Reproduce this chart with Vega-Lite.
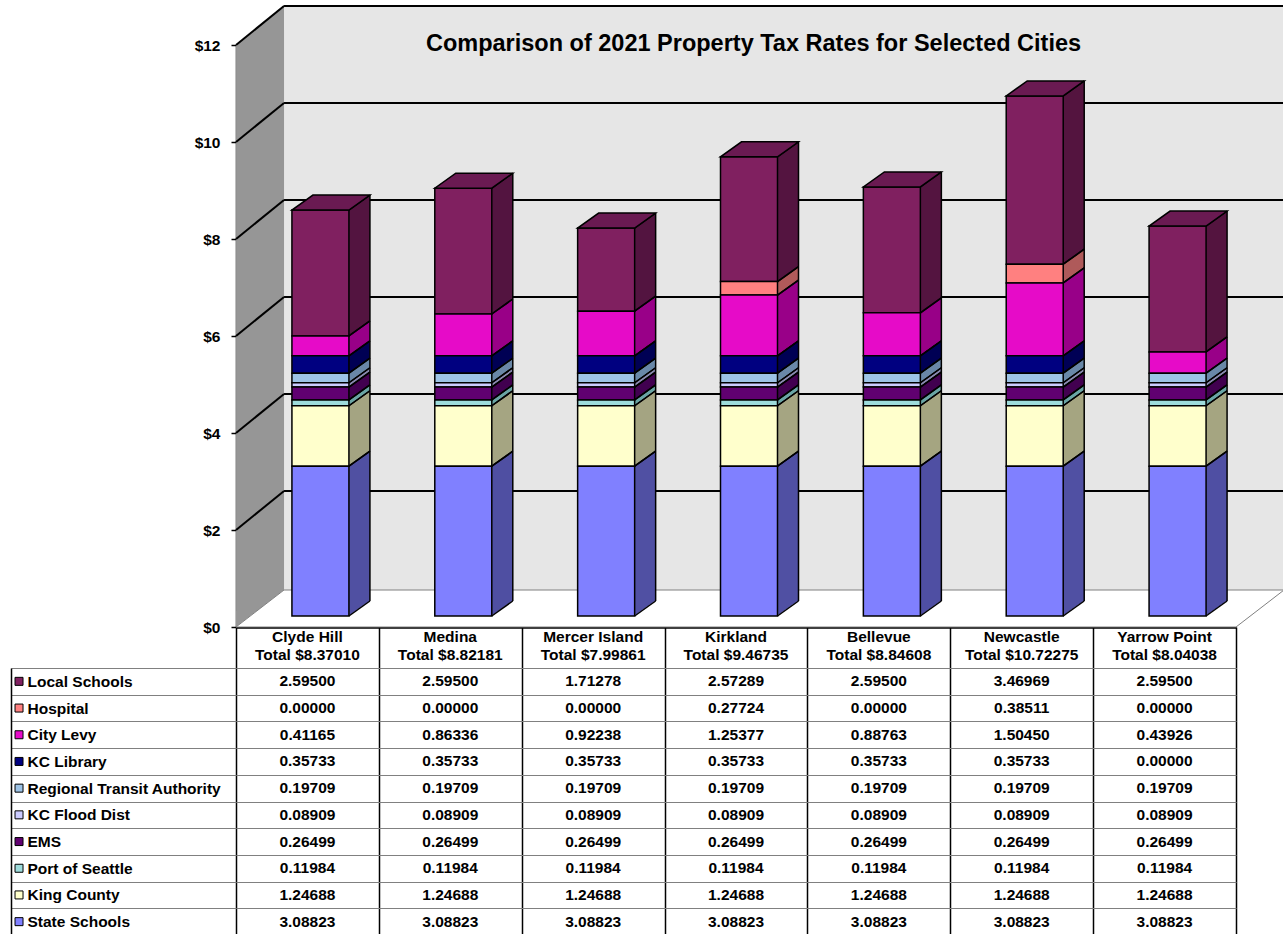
{
"$schema": "https://vega.github.io/schema/vega-lite/v6.json",
"padding": {"left": 10, "top": 5, "right": 0, "bottom": 0},
"background": "white",
"bounds": "flush",
"spacing": 41,
"config": {"view": {"stroke": null}, "font": "Liberation Sans"},
"datasets": {
"rates": [
{"city":"Clyde Hill","series":"Local Schools","value":2.595},
{"city":"Medina","series":"Local Schools","value":2.595},
{"city":"Mercer Island","series":"Local Schools","value":1.71278},
{"city":"Kirkland","series":"Local Schools","value":2.57289},
{"city":"Bellevue","series":"Local Schools","value":2.595},
{"city":"Newcastle","series":"Local Schools","value":3.46969},
{"city":"Yarrow Point","series":"Local Schools","value":2.595},
{"city":"Clyde Hill","series":"Hospital","value":0},
{"city":"Medina","series":"Hospital","value":0},
{"city":"Mercer Island","series":"Hospital","value":0},
{"city":"Kirkland","series":"Hospital","value":0.27724},
{"city":"Bellevue","series":"Hospital","value":0},
{"city":"Newcastle","series":"Hospital","value":0.38511},
{"city":"Yarrow Point","series":"Hospital","value":0},
{"city":"Clyde Hill","series":"City Levy","value":0.41165},
{"city":"Medina","series":"City Levy","value":0.86336},
{"city":"Mercer Island","series":"City Levy","value":0.92238},
{"city":"Kirkland","series":"City Levy","value":1.25377},
{"city":"Bellevue","series":"City Levy","value":0.88763},
{"city":"Newcastle","series":"City Levy","value":1.5045},
{"city":"Yarrow Point","series":"City Levy","value":0.43926},
{"city":"Clyde Hill","series":"KC Library","value":0.35733},
{"city":"Medina","series":"KC Library","value":0.35733},
{"city":"Mercer Island","series":"KC Library","value":0.35733},
{"city":"Kirkland","series":"KC Library","value":0.35733},
{"city":"Bellevue","series":"KC Library","value":0.35733},
{"city":"Newcastle","series":"KC Library","value":0.35733},
{"city":"Yarrow Point","series":"KC Library","value":0},
{"city":"Clyde Hill","series":"Regional Transit Authority","value":0.19709},
{"city":"Medina","series":"Regional Transit Authority","value":0.19709},
{"city":"Mercer Island","series":"Regional Transit Authority","value":0.19709},
{"city":"Kirkland","series":"Regional Transit Authority","value":0.19709},
{"city":"Bellevue","series":"Regional Transit Authority","value":0.19709},
{"city":"Newcastle","series":"Regional Transit Authority","value":0.19709},
{"city":"Yarrow Point","series":"Regional Transit Authority","value":0.19709},
{"city":"Clyde Hill","series":"KC Flood Dist","value":0.08909},
{"city":"Medina","series":"KC Flood Dist","value":0.08909},
{"city":"Mercer Island","series":"KC Flood Dist","value":0.08909},
{"city":"Kirkland","series":"KC Flood Dist","value":0.08909},
{"city":"Bellevue","series":"KC Flood Dist","value":0.08909},
{"city":"Newcastle","series":"KC Flood Dist","value":0.08909},
{"city":"Yarrow Point","series":"KC Flood Dist","value":0.08909},
{"city":"Clyde Hill","series":"EMS","value":0.26499},
{"city":"Medina","series":"EMS","value":0.26499},
{"city":"Mercer Island","series":"EMS","value":0.26499},
{"city":"Kirkland","series":"EMS","value":0.26499},
{"city":"Bellevue","series":"EMS","value":0.26499},
{"city":"Newcastle","series":"EMS","value":0.26499},
{"city":"Yarrow Point","series":"EMS","value":0.26499},
{"city":"Clyde Hill","series":"Port of Seattle","value":0.11984},
{"city":"Medina","series":"Port of Seattle","value":0.11984},
{"city":"Mercer Island","series":"Port of Seattle","value":0.11984},
{"city":"Kirkland","series":"Port of Seattle","value":0.11984},
{"city":"Bellevue","series":"Port of Seattle","value":0.11984},
{"city":"Newcastle","series":"Port of Seattle","value":0.11984},
{"city":"Yarrow Point","series":"Port of Seattle","value":0.11984},
{"city":"Clyde Hill","series":"King County","value":1.24688},
{"city":"Medina","series":"King County","value":1.24688},
{"city":"Mercer Island","series":"King County","value":1.24688},
{"city":"Kirkland","series":"King County","value":1.24688},
{"city":"Bellevue","series":"King County","value":1.24688},
{"city":"Newcastle","series":"King County","value":1.24688},
{"city":"Yarrow Point","series":"King County","value":1.24688},
{"city":"Clyde Hill","series":"State Schools","value":3.08823},
{"city":"Medina","series":"State Schools","value":3.08823},
{"city":"Mercer Island","series":"State Schools","value":3.08823},
{"city":"Kirkland","series":"State Schools","value":3.08823},
{"city":"Bellevue","series":"State Schools","value":3.08823},
{"city":"Newcastle","series":"State Schools","value":3.08823},
{"city":"Yarrow Point","series":"State Schools","value":3.08823}
],
"order": [
{"series":"State Schools","k":1},
{"series":"King County","k":2},
{"series":"Port of Seattle","k":3},
{"series":"EMS","k":4},
{"series":"KC Flood Dist","k":5},
{"series":"Regional Transit Authority","k":6},
{"series":"KC Library","k":7},
{"series":"City Levy","k":8},
{"series":"Hospital","k":9},
{"series":"Local Schools","k":10}
],
"cities": [
{"city":"Clyde Hill","total":8.3701},
{"city":"Medina","total":8.82181},
{"city":"Mercer Island","total":7.99861},
{"city":"Kirkland","total":9.46735},
{"city":"Bellevue","total":8.84608},
{"city":"Newcastle","total":10.72275},
{"city":"Yarrow Point","total":8.04038}
],
"grid": [{"v":2},{"v":4},{"v":6},{"v":8},{"v":10},{"v":12}],
"titles": [{"title":"Comparison of 2021 Property Tax Rates for Selected Cities"}]
},
"vconcat": [
{
"width": 1000,
"height": 582,
"layer": [
{
"data": {"values": [{}]},
"encoding": {
"x": {"datum": "Clyde Hill", "type": "nominal", "scale": {"domain": ["Clyde Hill","Medina","Mercer Island","Kirkland","Bellevue","Newcastle","Yarrow Point"], "paddingInner": 0, "paddingOuter": 0}, "axis": {"orient": "bottom", "title": null, "labels": false, "ticks": true, "tickBand": "extent", "tickSize": 41, "tickColor": "black", "tickWidth": 1.5, "domain": true, "domainColor": "black", "domainWidth": 2.5, "grid": false}},
"y": {"datum": 0, "type": "quantitative", "scale": {"domain": [0, 12], "nice": false, "zero": true}, "axis": {"title": null, "values": [0, 2, 4, 6, 8, 10, 12], "format": "$d", "grid": false, "domain": true, "domainColor": "black", "domainWidth": 1.5, "ticks": true, "tickSize": 5, "tickColor": "black", "tickWidth": 1.5, "labelPadding": 11, "labelFont": "Liberation Sans", "labelFontSize": 15.5, "labelFontWeight": "bold", "labelColor": "black"}}
},
"layer": [
{"mark": {"type": "point", "shape": "M-23.4,-37L976.6,-37L976.6,-621L-23.4,-621Z", "size": 4, "filled": true, "fill": "#E6E6E6", "strokeWidth": 0, "opacity": 1}},
{"mark": {"type": "point", "shape": "M-71.4,0L-71.4,-582L-23.4,-622L-23.4,-37Z", "size": 4, "filled": true, "fill": "#969696", "strokeWidth": 0, "opacity": 1}},
{"mark": {"type": "point", "shape": "M-71.4,0L928.6,0L976.6,-37L-23.4,-37Z", "size": 4, "filled": true, "fill": "#FFFFFF", "stroke": "#808080", "strokeWidth": 1, "opacity": 1}}
]
},
{
"data": {"name": "grid"},
"layer": [
{"mark": {"type": "rule", "color": "black", "strokeWidth": 2, "xOffset": -23.4, "x2Offset": 119.4, "yOffset": -39},
"encoding": {
"x": {"datum": "Clyde Hill", "type": "nominal"},
"x2": {"datum": "Yarrow Point"},
"y": {"field": "v", "type": "quantitative"}
}},
{"mark": {"type": "rule", "color": "black", "strokeWidth": 2, "xOffset": -71.4, "x2Offset": -23.4, "yOffset": 0, "y2Offset": -39},
"encoding": {
"x": {"datum": "Clyde Hill", "type": "nominal"},
"x2": {"datum": "Clyde Hill"},
"y": {"field": "v", "type": "quantitative"},
"y2": {"field": "v"}
}}
]
},
{
"data": {"name": "titles"},
"mark": {"type": "text", "baseline": "alphabetic", "align": "center", "dx": 17.5, "dy": 6, "fontSize": 23.5, "fontWeight": "bold", "font": "Liberation Sans", "color": "black"},
"encoding": {
"x": {"datum": "Kirkland", "type": "nominal"},
"y": {"datum": 12, "type": "quantitative"},
"text": {"field": "title"}
}
},
{
"data": {"name": "rates"},
"transform": [
{"filter": "datum.value > 0"},
{"lookup": "series", "from": {"data": {"name": "order"}, "key": "series", "fields": ["k"]}},
{"stack": "value", "groupby": ["city"], "sort": [{"field": "k", "order": "ascending"}], "as": ["v0", "v1"]}
],
"layer": [
{
"encoding": {
"x": {"field": "city", "type": "nominal"},
"y": {"field": "v0", "type": "quantitative"},
"y2": {"field": "v1"},
"fill": {"field": "series", "type": "nominal", "legend": null, "scale": {"domain": ["Local Schools","Hospital","City Levy","KC Library","Regional Transit Authority","KC Flood Dist","EMS","Port of Seattle","King County","State Schools"], "range": ["#541540","#B05A5A","#990088","#000055","#6A88A8","#8A8AB0","#420050","#6AA5A5","#A5A582","#5050A3"]}}
},
"layer": [
{"mark": {"type": "bar", "width": 57, "xOffset": 34, "x2Offset": 34, "yOffset": -26, "y2Offset": -26}},
{"mark": {"type": "bar", "width": 57, "xOffset": 33, "x2Offset": 33, "yOffset": -25.3, "y2Offset": -25.3}},
{"mark": {"type": "bar", "width": 57, "xOffset": 32, "x2Offset": 32, "yOffset": -24.6, "y2Offset": -24.6}},
{"mark": {"type": "bar", "width": 57, "xOffset": 31, "x2Offset": 31, "yOffset": -23.9, "y2Offset": -23.9}},
{"mark": {"type": "bar", "width": 57, "xOffset": 30, "x2Offset": 30, "yOffset": -23.1, "y2Offset": -23.1}},
{"mark": {"type": "bar", "width": 57, "xOffset": 29, "x2Offset": 29, "yOffset": -22.4, "y2Offset": -22.4}},
{"mark": {"type": "bar", "width": 57, "xOffset": 28, "x2Offset": 28, "yOffset": -21.7, "y2Offset": -21.7}},
{"mark": {"type": "bar", "width": 57, "xOffset": 27, "x2Offset": 27, "yOffset": -21, "y2Offset": -21}},
{"mark": {"type": "bar", "width": 57, "xOffset": 26, "x2Offset": 26, "yOffset": -20.3, "y2Offset": -20.3}},
{"mark": {"type": "bar", "width": 57, "xOffset": 25, "x2Offset": 25, "yOffset": -19.6, "y2Offset": -19.6}},
{"mark": {"type": "bar", "width": 57, "xOffset": 24, "x2Offset": 24, "yOffset": -18.9, "y2Offset": -18.9}},
{"mark": {"type": "bar", "width": 57, "xOffset": 23, "x2Offset": 23, "yOffset": -18.1, "y2Offset": -18.1}},
{"mark": {"type": "bar", "width": 57, "xOffset": 22, "x2Offset": 22, "yOffset": -17.4, "y2Offset": -17.4}},
{"mark": {"type": "bar", "width": 57, "xOffset": 21, "x2Offset": 21, "yOffset": -16.7, "y2Offset": -16.7}},
{"mark": {"type": "bar", "width": 57, "xOffset": 20, "x2Offset": 20, "yOffset": -16, "y2Offset": -16}},
{"mark": {"type": "bar", "width": 57, "xOffset": 19, "x2Offset": 19, "yOffset": -15.3, "y2Offset": -15.3}},
{"mark": {"type": "bar", "width": 57, "xOffset": 18, "x2Offset": 18, "yOffset": -14.6, "y2Offset": -14.6}},
{"mark": {"type": "bar", "width": 57, "xOffset": 17, "x2Offset": 17, "yOffset": -13.9, "y2Offset": -13.9}},
{"mark": {"type": "bar", "width": 57, "xOffset": 16, "x2Offset": 16, "yOffset": -13.1, "y2Offset": -13.1}},
{"mark": {"type": "bar", "width": 57, "xOffset": 15, "x2Offset": 15, "yOffset": -12.4, "y2Offset": -12.4}},
{"mark": {"type": "bar", "width": 57, "xOffset": 14, "x2Offset": 14, "yOffset": -11.7, "y2Offset": -11.7}}
]
},
{"mark": {"type": "rule", "color": "black", "strokeWidth": 1.5, "xOffset": 41.5, "x2Offset": 62.5, "yOffset": -11, "y2Offset": -26},
"encoding": {
"x": {"field": "city", "type": "nominal"},
"x2": {"field": "city"},
"y": {"field": "v1", "type": "quantitative"},
"y2": {"field": "v1"}
}},
{"mark": {"type": "rule", "color": "black", "strokeWidth": 1.5, "xOffset": 41.5, "x2Offset": 62.5, "yOffset": -11, "y2Offset": -26},
"encoding": {
"x": {"field": "city", "type": "nominal"},
"x2": {"field": "city"},
"y": {"field": "v0", "type": "quantitative"},
"y2": {"field": "v0"}
}},
{"mark": {"type": "bar", "width": 57, "xOffset": 13, "x2Offset": 13, "yOffset": -11, "y2Offset": -11, "stroke": "black", "strokeWidth": 1.5},
"encoding": {
"x": {"field": "city", "type": "nominal"},
"y": {"field": "v0", "type": "quantitative"},
"y2": {"field": "v1"},
"color": {"field": "series", "type": "nominal", "legend": null, "scale": {"domain": ["Local Schools","Hospital","City Levy","KC Library","Regional Transit Authority","KC Flood Dist","EMS","Port of Seattle","King County","State Schools"], "range": ["#802060","#FF8080","#E60BC8","#000080","#9DC3E6","#CCCCFF","#600070","#9EDCDC","#FFFFCC","#8080FF"]}}
}}
]
},
{
"data": {"name": "cities"},
"transform": [{"calculate": "[datum.city, 'Total $' + format(datum.total, '.5f')]", "as": "hdr"}],
"layer": [
{"mark": {"type": "rule", "color": "black", "strokeWidth": 1.5, "xOffset": 62.5, "x2Offset": 62.5, "yOffset": -26, "y2Offset": -26},
"encoding": {
"x": {"field": "city", "type": "nominal"},
"y": {"field": "total", "type": "quantitative"},
"y2": {"datum": 0}
}},
{"mark": {"type": "point", "shape": "M-28.5,0L28.5,0L49.5,-15L-7.5,-15Z", "size": 4, "filled": true, "fill": "#6A1A52", "stroke": "black", "strokeWidth": 1.5, "opacity": 1, "xOffset": 13, "yOffset": -11},
"encoding": {
"x": {"field": "city", "type": "nominal"},
"y": {"field": "total", "type": "quantitative"}
}},
{"mark": {"type": "text", "baseline": "top", "align": "center", "yOffset": 3, "lineHeight": 18, "fontSize": 15.5, "fontWeight": "bold", "font": "Liberation Sans", "color": "black"},
"encoding": {
"x": {"field": "city", "type": "nominal"},
"y": {"datum": 0, "type": "quantitative"},
"text": {"field": "hdr"}
}}
]
}
]
},
{
"width": 1000,
"height": 267,
"data": {"name": "rates"},
"layer": [
{"mark": {"type": "text", "font": "Liberation Sans", "fontSize": 15.5, "fontWeight": "bold", "color": "black", "baseline": "middle", "align": "center"},
"encoding": {
"x": {"field": "city", "type": "nominal", "scale": {"domain": ["Clyde Hill","Medina","Mercer Island","Kirkland","Bellevue","Newcastle","Yarrow Point"], "paddingInner": 0, "paddingOuter": 0}, "axis": {"orient": "top", "title": null, "grid": true, "gridColor": "black", "gridWidth": 1.5, "tickBand": "extent", "labels": false, "ticks": false, "domain": false}},
"y": {"field": "series", "type": "nominal", "scale": {"domain": ["Local Schools","Hospital","City Levy","KC Library","Regional Transit Authority","KC Flood Dist","EMS","Port of Seattle","King County","State Schools"], "paddingInner": 0, "paddingOuter": 0}, "axis": {"orient": "left", "title": null, "offset": 225, "domain": true, "domainColor": "black", "domainWidth": 1.5, "ticks": true, "tickBand": "extent", "tickSize": -225, "tickColor": "#808080", "tickWidth": 1.2, "grid": true, "gridColor": "#808080", "gridWidth": 1.2, "labelAlign": "left", "labelBaseline": "middle", "labelPadding": 209, "labelFont": "Liberation Sans", "labelFontSize": 15.5, "labelFontWeight": "bold", "labelColor": "black", "labelLimit": 0}},
"text": {"field": "value", "type": "quantitative", "format": ".5f"}
}},
{"transform": [{"filter": "datum.city === 'Clyde Hill'"}],
"mark": {"type": "point", "shape": "square", "size": 64, "filled": true, "stroke": "black", "strokeWidth": 1, "opacity": 1, "xOffset": -288.4},
"encoding": {
"x": {"field": "city", "type": "nominal"},
"y": {"field": "series", "type": "nominal"},
"color": {"field": "series", "type": "nominal", "legend": null}
}}
]
}
]
}
